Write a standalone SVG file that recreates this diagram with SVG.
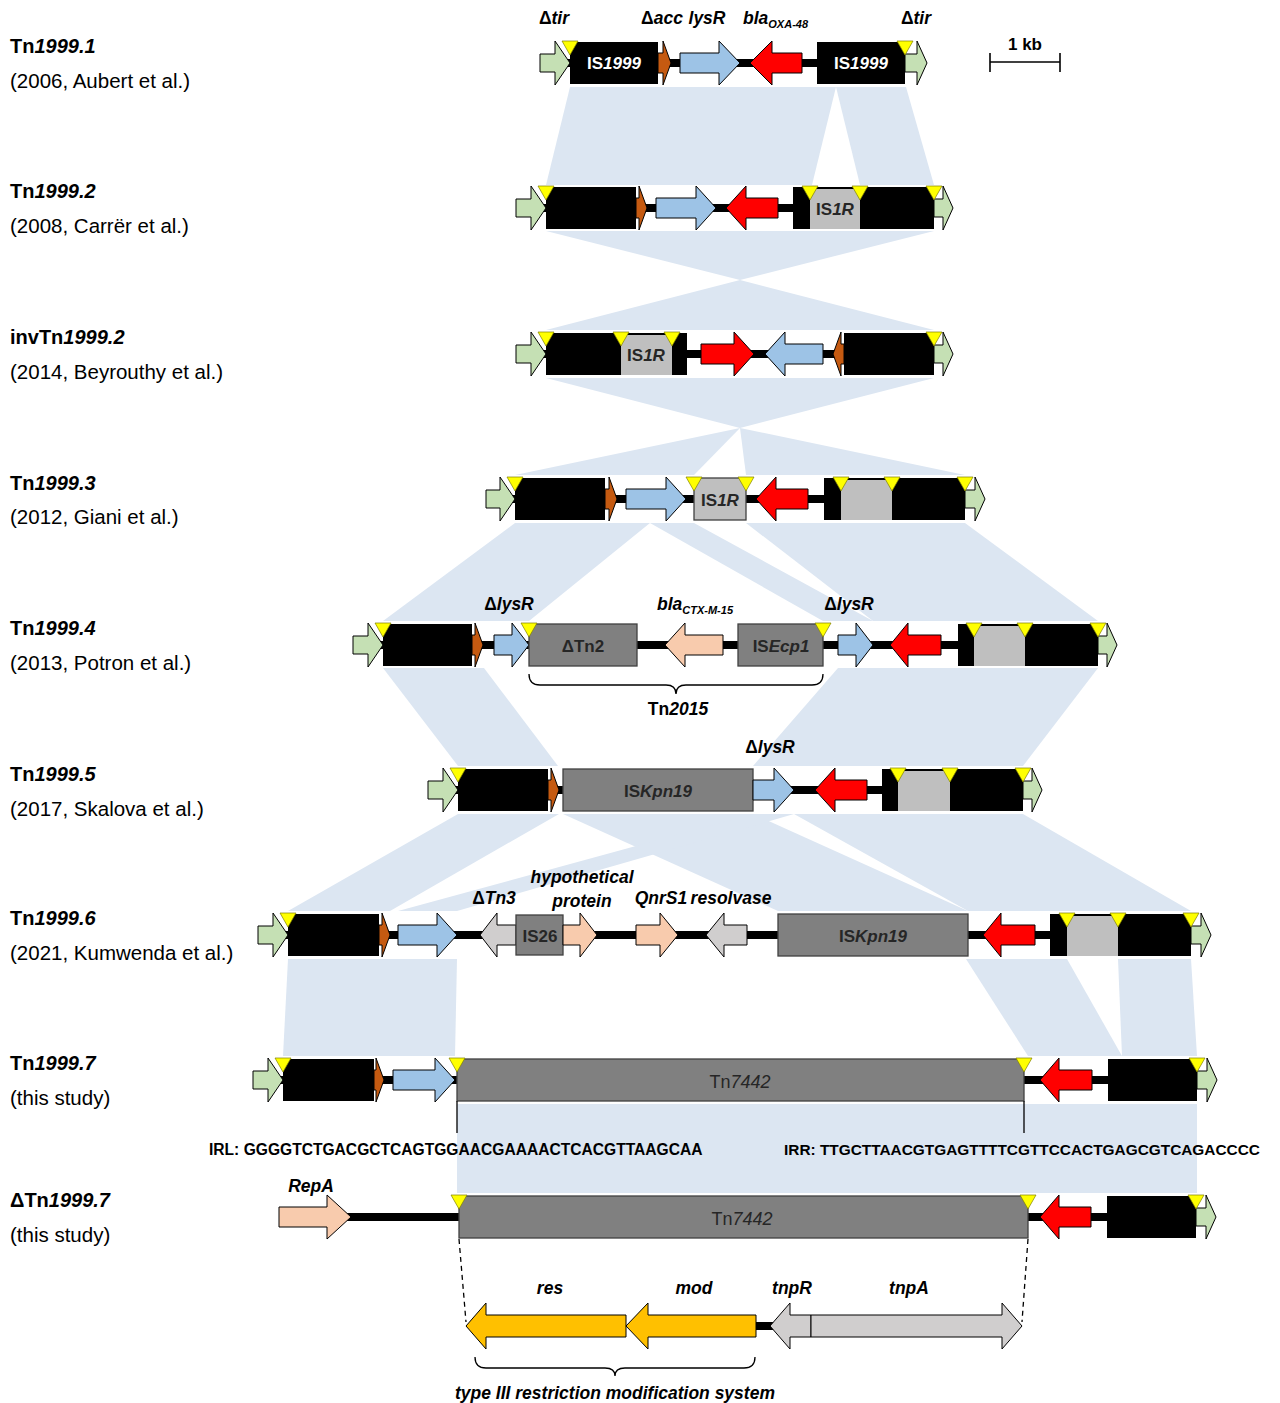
<svg xmlns="http://www.w3.org/2000/svg" width="1280" height="1403" viewBox="0 0 1280 1403">
<style>
text{font-family:"Liberation Sans",Arial,sans-serif;fill:#000}
.sh{fill:#dce6f2}
.bb{stroke:#000;stroke-width:8}
.blk{fill:#000}
.gn{fill:#c5e0b4;stroke:#000;stroke-width:1}
.or{fill:#c55a11;stroke:#000;stroke-width:1}
.lb{fill:#9dc3e6;stroke:#000;stroke-width:1}
.rd{fill:#ff0000;stroke:#000;stroke-width:1}
.pc{fill:#f8cbad;stroke:#000;stroke-width:1}
.lg{fill:#d0cece;stroke:#000;stroke-width:1}
.dg{fill:#808080;stroke:#404040;stroke-width:1.3}
.ig{fill:#bfbfbf}
.igb{fill:#bfbfbf;stroke:#404040;stroke-width:1.3}
.gd{fill:#ffc000;stroke:#000;stroke-width:1}
.yt{fill:#ffff00;stroke:#808000;stroke-width:0.7}
.ln{stroke:#000;stroke-width:1.3;fill:none}
.rt{font-size:20px;font-weight:bold}
.rs{font-size:20.5px}
.gl{font-size:17.5px;font-weight:bold;font-style:italic;text-anchor:middle}
.bx{font-size:17px;font-weight:bold;text-anchor:middle;fill:#262626}
.seq{font-size:15.6px;font-weight:bold}
.wt{fill:#fff}
.i{font-style:italic}
.n{font-style:normal}
.sub{font-size:11px}
</style>

<g id="shading">
<polygon class="sh" points="570,87 836,87 812,185 546,185"/>
<polygon class="sh" points="836,87 906,87 934,185 860,185"/>
<polygon class="sh" points="546,231 934,231 740,280"/>
<polygon class="sh" points="740,280 546,330 934,330"/>
<polygon class="sh" points="546,378 934,378 740,428"/>
<polygon class="sh" points="740,428 515,475 694,475"/>
<polygon class="sh" points="740,428 746,475 965,475"/>
<polygon class="sh" points="515,523 650,523 529,621 383,621"/>
<polygon class="sh" points="650,523 694,523 873,621 823,621"/>
<polygon class="sh" points="746,523 965,523 1098,621 873,621"/>
<polygon class="sh" points="383,668 484,668 558,766 458,766"/>
<polygon class="sh" points="838,668 1098,668 1023,766 753,766"/>
<polygon class="sh" points="458,814 559,814 390,911 288,911"/>
<polygon class="sh" points="563,814 753,814 968,911 778,911"/>
<polygon class="sh" points="753,814 794,814 457,911 398,911"/>
<polygon class="sh" points="794,814 1023,814 1191,911 968,911"/>
<polygon class="sh" points="288,959 457,959 455,1056 283,1056"/>
<polygon class="sh" points="966,959 1067,959 1122,1056 1028,1056"/>
<polygon class="sh" points="1118,959 1191,959 1197,1056 1122,1056"/>
<rect class="sh" x="457" y="1104" width="740" height="89"/>
</g>

<g id="titles">
<text class="rt" x="10" y="53">Tn<tspan class="i">1999.1</tspan></text>
<text class="rs" x="10" y="88">(2006, Aubert et al.)</text>
<text class="rt" x="10" y="198">Tn<tspan class="i">1999.2</tspan></text>
<text class="rs" x="10" y="233">(2008, Carrër et al.)</text>
<text class="rt" x="10" y="344">invTn<tspan class="i">1999.2</tspan></text>
<text class="rs" x="10" y="379">(2014, Beyrouthy et al.)</text>
<text class="rt" x="10" y="490">Tn<tspan class="i">1999.3</tspan></text>
<text class="rs" x="10" y="524">(2012, Giani et al.)</text>
<text class="rt" x="10" y="635">Tn<tspan class="i">1999.4</tspan></text>
<text class="rs" x="10" y="670">(2013, Potron et al.)</text>
<text class="rt" x="10" y="781">Tn<tspan class="i">1999.5</tspan></text>
<text class="rs" x="10" y="816">(2017, Skalova et al.)</text>
<text class="rt" x="10" y="925">Tn<tspan class="i">1999.6</tspan></text>
<text class="rs" x="10" y="960">(2021, Kumwenda et al.)</text>
<text class="rt" x="10" y="1070">Tn<tspan class="i">1999.7</tspan></text>
<text class="rs" x="10" y="1105">(this study)</text>
<text class="rt" x="10" y="1207">ΔTn<tspan class="i">1999.7</tspan></text>
<text class="rs" x="10" y="1242">(this study)</text>
</g>

<g id="scalebar">
<line class="ln" x1="990" y1="62" x2="1060" y2="62" style="stroke-width:1.6"/>
<line class="ln" x1="990" y1="53" x2="990" y2="72" style="stroke-width:1.6"/>
<line class="ln" x1="1060" y1="53" x2="1060" y2="72" style="stroke-width:1.6"/>
<text x="1025" y="50" style="font-size:17px;font-weight:bold;text-anchor:middle">1 kb</text>
</g>

<g id="row1">
<line class="bb" x1="560" y1="63" x2="915" y2="63"/>
<polygon class="gn" points="540,54 555,54 555,41 570,63 555,85 555,72 540,72"/>
<rect class="blk" x="570" y="42" width="88" height="42"/>
<text class="bx wt" x="614" y="69">IS<tspan class="i">1999</tspan></text>
<polygon class="or" points="658,53 663,53 663,41 671,63 663,85 663,73 658,73"/>
<polygon class="lb" points="680,53 719,53 719,41 740,63 719,85 719,73 680,73"/>
<polygon class="rd" points="802,53 772,53 772,41 750,63 772,85 772,73 802,73"/>
<rect class="blk" x="817" y="42" width="88" height="42"/>
<text class="bx wt" x="861" y="69">IS<tspan class="i">1999</tspan></text>
<polygon class="gn" points="905,54 917,54 917,41 927,63 917,85 917,72 905,72"/>
<polygon class="yt" points="562,41 578,41 570,55"/>
<polygon class="yt" points="897,41 913,41 905,55"/>
<text class="gl" x="554" y="24"><tspan class="n">Δ</tspan>tir</text>
<text class="gl" x="662" y="24"><tspan class="n">Δ</tspan>acc</text>
<text class="gl" x="707" y="24">lysR</text>
<text class="gl" x="743" y="24" style="text-anchor:start">bla<tspan class="sub" dy="4">OXA-48</tspan></text>
<text class="gl" x="916" y="24"><tspan class="n">Δ</tspan>tir</text>
</g>

<g id="row2">
<line class="bb" x1="530" y1="208" x2="945" y2="208"/>
<polygon class="gn" points="516,199 531,199 531,186 546,208 531,230 531,217 516,217"/>
<rect class="blk" x="546" y="187" width="90" height="42"/>
<polygon class="or" points="636,198 639,198 639,186 647,208 639,230 639,218 636,218"/>
<polygon class="lb" points="656,198 696,198 696,186 716,208 696,230 696,218 656,218"/>
<polygon class="rd" points="778,198 746,198 746,186 726,208 746,230 746,218 778,218"/>
<rect class="blk" x="793" y="187" width="141" height="42"/>
<rect class="ig" x="810" y="189" width="50" height="40"/>
<text class="bx" x="835" y="215">IS<tspan class="i">1R</tspan></text>
<polygon class="gn" points="934,199 943,199 943,186 953,208 943,230 943,217 934,217"/>
<polygon class="yt" points="538,186 554,186 546,200"/>
<polygon class="yt" points="802,186 818,186 810,200"/>
<polygon class="yt" points="852,186 868,186 860,200"/>
<polygon class="yt" points="926,186 942,186 934,200"/>
</g>

<g id="row3">
<line class="bb" x1="530" y1="354" x2="945" y2="354"/>
<polygon class="gn" points="516,345 531,345 531,332 546,354 531,376 531,363 516,363"/>
<rect class="blk" x="546" y="333" width="141" height="42"/>
<rect class="ig" x="621" y="335" width="51" height="40"/>
<text class="bx" x="646" y="361">IS<tspan class="i">1R</tspan></text>
<polygon class="rd" points="701,344 734,344 734,332 754,354 734,376 734,364 701,364"/>
<polygon class="lb" points="823,344 785,344 785,332 765,354 785,376 785,364 823,364"/>
<polygon class="or" points="844,344 841,344 841,332 833,354 841,376 841,364 844,364"/>
<rect class="blk" x="844" y="333" width="90" height="42"/>
<polygon class="gn" points="934,345 943,345 943,332 953,354 943,376 943,363 934,363"/>
<polygon class="yt" points="538,332 554,332 546,346"/>
<polygon class="yt" points="613,332 629,332 621,346"/>
<polygon class="yt" points="664,332 680,332 672,346"/>
<polygon class="yt" points="926,332 942,332 934,346"/>
</g>

<g id="row4">
<line class="bb" x1="500" y1="499" x2="975" y2="499"/>
<polygon class="gn" points="486,490 500,490 500,477 515,499 500,521 500,508 486,508"/>
<rect class="blk" x="515" y="478" width="90" height="42"/>
<polygon class="or" points="605,489 609,489 609,477 617,499 609,521 609,509 605,509"/>
<polygon class="lb" points="626,489 666,489 666,477 686,499 666,521 666,509 626,509"/>
<rect class="igb" x="694" y="478" width="52" height="42"/>
<text class="bx" x="720" y="506">IS<tspan class="i">1R</tspan></text>
<polygon class="rd" points="808,489 776,489 776,477 756,499 776,521 776,509 808,509"/>
<rect class="blk" x="824" y="478" width="141" height="42"/>
<rect class="ig" x="841" y="480" width="51" height="40"/>
<polygon class="gn" points="965,490 975,490 975,477 985,499 975,521 975,508 965,508"/>
<polygon class="yt" points="507,477 523,477 515,491"/>
<polygon class="yt" points="686,477 702,477 694,491"/>
<polygon class="yt" points="738,477 754,477 746,491"/>
<polygon class="yt" points="833,477 849,477 841,491"/>
<polygon class="yt" points="884,477 900,477 892,491"/>
<polygon class="yt" points="957,477 973,477 965,491"/>
</g>

<g id="row5">
<line class="bb" x1="370" y1="645" x2="1105" y2="645"/>
<polygon class="gn" points="353,636 368,636 368,623 383,645 368,667 368,654 353,654"/>
<rect class="blk" x="383" y="624" width="89" height="42"/>
<polygon class="or" points="472,635 475,635 475,623 483,645 475,667 475,655 472,655"/>
<polygon class="lb" points="494,635 512,635 512,623 529,645 512,667 512,655 494,655"/>
<rect class="dg" x="529" y="624" width="108" height="42"/>
<text class="bx" x="583" y="652">ΔTn2</text>
<polygon class="pc" points="723,635 685,635 685,623 665,645 685,667 685,655 723,655"/>
<rect class="dg" x="738" y="624" width="85" height="42"/>
<text class="bx" x="781" y="652">IS<tspan class="i">Ecp1</tspan></text>
<polygon class="lb" points="838,635 856,635 856,623 873,645 856,667 856,655 838,655"/>
<polygon class="rd" points="941,635 908,635 908,623 890,645 908,667 908,655 941,655"/>
<rect class="blk" x="958" y="624" width="140" height="42"/>
<rect class="ig" x="974" y="626" width="51" height="40"/>
<polygon class="gn" points="1098,636 1107,636 1107,623 1117,645 1107,667 1107,654 1098,654"/>
<polygon class="yt" points="375,623 391,623 383,637"/>
<polygon class="yt" points="521,623 537,623 529,637"/>
<polygon class="yt" points="815,623 831,623 823,637"/>
<polygon class="yt" points="966,623 982,623 974,637"/>
<polygon class="yt" points="1017,623 1033,623 1025,637"/>
<polygon class="yt" points="1090,623 1106,623 1098,637"/>
<text class="gl" x="509" y="610"><tspan class="n">Δ</tspan>lysR</text>
<text class="gl" x="657" y="610" style="text-anchor:start">bla<tspan class="sub" dy="4">CTX-M-15</tspan></text>
<text class="gl" x="849" y="610"><tspan class="n">Δ</tspan>lysR</text>
<path class="ln" d="M529,674 Q529,685 540,685 L666,685 Q676,685 676,694 Q676,685 686,685 L812,685 Q823,685 823,674"/>
<text x="678" y="715" style="font-size:17.5px;font-weight:bold;text-anchor:middle">Tn<tspan class="i">2015</tspan></text>
</g>

<g id="row6">
<line class="bb" x1="440" y1="790" x2="1030" y2="790"/>
<polygon class="gn" points="428,781 443,781 443,768 458,790 443,812 443,799 428,799"/>
<rect class="blk" x="458" y="769" width="90" height="42"/>
<polygon class="or" points="548,780 551,780 551,768 559,790 551,812 551,800 548,800"/>
<rect class="dg" x="563" y="769" width="190" height="42"/>
<text class="bx" x="658" y="797">IS<tspan class="i">Kpn19</tspan></text>
<polygon class="lb" points="753,780 774,780 774,768 794,790 774,812 774,800 753,800"/>
<polygon class="rd" points="867,780 835,780 835,768 815,790 835,812 835,800 867,800"/>
<rect class="blk" x="882" y="769" width="141" height="42"/>
<rect class="ig" x="898" y="771" width="52" height="40"/>
<polygon class="gn" points="1023,781 1032,781 1032,768 1042,790 1032,812 1032,799 1023,799"/>
<polygon class="yt" points="450,768 466,768 458,782"/>
<polygon class="yt" points="890,768 906,768 898,782"/>
<polygon class="yt" points="942,768 958,768 950,782"/>
<polygon class="yt" points="1015,768 1031,768 1023,782"/>
<text class="gl" x="770" y="753"><tspan class="n">Δ</tspan>lysR</text>
</g>

<g id="row7">
<line class="bb" x1="270" y1="935" x2="1200" y2="935"/>
<polygon class="gn" points="258,926 273,926 273,913 288,935 273,957 273,944 258,944"/>
<rect class="blk" x="288" y="914" width="91" height="42"/>
<polygon class="or" points="379,925 382,925 382,913 390,935 382,957 382,945 379,945"/>
<polygon class="lb" points="398,925 437,925 437,913 457,935 437,957 437,945 398,945"/>
<polygon class="lg" points="516,925 497,925 497,913 480,935 497,957 497,945 516,945"/>
<rect class="dg" x="516" y="915" width="47" height="40"/>
<text class="bx" x="540" y="942">IS26</text>
<polygon class="pc" points="563,925 580,925 580,913 597,935 580,957 580,945 563,945"/>
<polygon class="pc" points="636,925 660,925 660,913 678,935 660,957 660,945 636,945"/>
<polygon class="lg" points="747,925 724,925 724,913 706,935 724,957 724,945 747,945"/>
<rect class="dg" x="778" y="914" width="190" height="42"/>
<text class="bx" x="873" y="942">IS<tspan class="i">Kpn19</tspan></text>
<polygon class="rd" points="1035,925 1001,925 1001,913 983,935 1001,957 1001,945 1035,945"/>
<rect class="blk" x="1050" y="914" width="141" height="42"/>
<rect class="ig" x="1067" y="916" width="51" height="40"/>
<polygon class="gn" points="1191,926 1201,926 1201,913 1211,935 1201,957 1201,944 1191,944"/>
<polygon class="yt" points="280,913 296,913 288,927"/>
<polygon class="yt" points="1059,913 1075,913 1067,927"/>
<polygon class="yt" points="1110,913 1126,913 1118,927"/>
<polygon class="yt" points="1183,913 1199,913 1191,927"/>
<text class="gl" x="494" y="904"><tspan class="n">Δ</tspan>Tn3</text>
<text class="gl" x="582" y="883">hypothetical</text>
<text class="gl" x="582" y="907">protein</text>
<text class="gl" x="661" y="904">QnrS1</text>
<text class="gl" x="731" y="904">resolvase</text>
</g>

<g id="row8">
<line class="bb" x1="265" y1="1080" x2="1205" y2="1080"/>
<polygon class="gn" points="253,1071 268,1071 268,1058 283,1080 268,1102 268,1089 253,1089"/>
<rect class="blk" x="283" y="1059" width="91" height="42"/>
<polygon class="or" points="374,1070 376,1070 376,1058 384,1080 376,1102 376,1090 374,1090"/>
<polygon class="lb" points="393,1070 435,1070 435,1058 455,1080 435,1102 435,1090 393,1090"/>
<rect class="dg" x="457" y="1059" width="567" height="42"/>
<text x="740" y="1088" style="font-size:18px;text-anchor:middle;fill:#262626">Tn<tspan class="i">7442</tspan></text>
<polygon class="rd" points="1092,1070 1059,1070 1059,1058 1040,1080 1059,1102 1059,1090 1092,1090"/>
<rect class="blk" x="1108" y="1059" width="89" height="42"/>
<polygon class="gn" points="1197,1071 1207,1071 1207,1058 1217,1080 1207,1102 1207,1089 1197,1089"/>
<polygon class="yt" points="275,1058 291,1058 283,1072"/>
<polygon class="yt" points="449,1058 465,1058 457,1072"/>
<polygon class="yt" points="1016,1058 1032,1058 1024,1072"/>
<polygon class="yt" points="1189,1058 1205,1058 1197,1072"/>
<line class="ln" x1="457" y1="1101" x2="457" y2="1133"/>
<line class="ln" x1="1024" y1="1101" x2="1024" y2="1133"/>
<text class="seq" x="209" y="1155">IRL: GGGGTCTGACGCTCAGTGGAACGAAAACTCACGTTAAGCAA</text>
<text class="seq" x="784" y="1155" style="font-size:15.4px">IRR: TTGCTTAACGTGAGTTTTCGTTCCACTGAGCGTCAGACCCC</text>
</g>

<g id="row9">
<line class="bb" x1="340" y1="1217" x2="1205" y2="1217"/>
<polygon class="pc" points="279,1207 327,1207 327,1195 351,1217 327,1239 327,1227 279,1227"/>
<rect class="dg" x="459" y="1196" width="569" height="42"/>
<text x="742" y="1225" style="font-size:18px;text-anchor:middle;fill:#262626">Tn<tspan class="i">7442</tspan></text>
<polygon class="rd" points="1091,1207 1059,1207 1059,1195 1040,1217 1059,1239 1059,1227 1091,1227"/>
<rect class="blk" x="1107" y="1196" width="89" height="42"/>
<polygon class="gn" points="1196,1208 1206,1208 1206,1195 1216,1217 1206,1239 1206,1226 1196,1226"/>
<polygon class="yt" points="451,1195 467,1195 459,1209"/>
<polygon class="yt" points="1020,1195 1036,1195 1028,1209"/>
<polygon class="yt" points="1188,1195 1204,1195 1196,1209"/>
<text class="gl" x="311" y="1192">RepA</text>
</g>

<g id="tn7442-detail">
<line class="ln" x1="459" y1="1239" x2="466" y2="1322" style="stroke-dasharray:5,4"/>
<line class="ln" x1="1028" y1="1239" x2="1022" y2="1322" style="stroke-dasharray:5,4"/>
<line class="bb" x1="750" y1="1326" x2="775" y2="1326"/>
<polygon class="gd" points="626,1315 486,1315 486,1303 466,1326 486,1349 486,1337 626,1337"/>
<polygon class="gd" points="756,1315 648,1315 648,1303 626,1326 648,1349 648,1337 756,1337"/>
<polygon class="lg" points="811,1315 790,1315 790,1303 770,1326 790,1349 790,1337 811,1337"/>
<polygon class="lg" points="811,1315 1002,1315 1002,1303 1022,1326 1002,1349 1002,1337 811,1337"/>
<text class="gl" x="550" y="1294">res</text>
<text class="gl" x="694" y="1294">mod</text>
<text class="gl" x="792" y="1294">tnpR</text>
<text class="gl" x="909" y="1294">tnpA</text>
<path class="ln" d="M475,1357 Q475,1368 486,1368 L605,1368 Q615,1368 615,1376 Q615,1368 625,1368 L744,1368 Q755,1368 755,1357"/>
<text class="gl" x="615" y="1399">type III restriction modification system</text>
</g>
</svg>
